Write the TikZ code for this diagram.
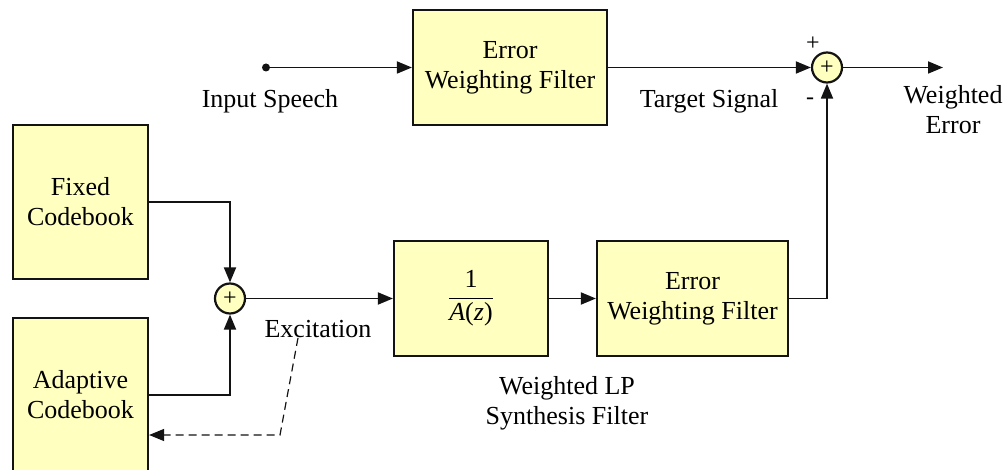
\documentclass[tikz,border=0pt]{standalone}
\usepackage{fontspec}
\setmainfont{Liberation Serif}
\usepackage{xcolor}
\definecolor{block-fill}{HTML}{FFFFC0}
\definecolor{block-line}{HTML}{131313}
\usetikzlibrary{arrows.meta}

\begin{document}
\begin{tikzpicture}[x=0.5pt, y=-0.5pt,
    font=\fontsize{13}{15}\selectfont,
    block/.style={draw=block-line, line width=1.1pt, fill=block-fill, align=center, inner sep=0pt},
    adder/.style={draw=block-line, line width=1.1pt, fill=block-fill, circle, minimum size=15pt, inner sep=0pt, font=\fontsize{12}{12}\selectfont},
    caption/.style={align=center, inner sep=0pt},
    signal/.style={draw=block-line, line width=0.9pt, -{Triangle[length=7.5pt, width=6pt]}}]

    % Canvas
    \useasboundingbox (0, 0) rectangle (1007, 470);

    % Upper path
    \node[circle, fill=block-line, inner sep=0pt, minimum size=4pt] (input) at (266, 67.5) {};
    \node[block, minimum width=97pt, minimum height=57.5pt] (weightTop) at (510, 67.5) {Error\\Weighting Filter};
    \node[adder] (sumTop) at (827, 67.5) {+};
    \coordinate (output) at (943, 67.5);

    % Codebooks
    \node[block, minimum width=67.5pt, minimum height=77pt] (fixed) at (80.5, 202) {Fixed\\Codebook};
    \node[block, minimum width=67.5pt, minimum height=77pt] (adaptive) at (80.5, 395) {Adaptive\\Codebook};
    \node[adder] (sumLeft) at (230, 298.5) {+};

    % Lower path
    \node[block, minimum width=77pt, minimum height=57.5pt] (synth) at (471, 298.5) {$\displaystyle\frac{\mbox{1}}{\mbox{\itshape A\upshape(\itshape z\upshape)}}$};
    \node[block, minimum width=95.5pt, minimum height=57.5pt] (weightBot) at (692.5, 298.5) {Error\\Weighting Filter};

    % Labels
    \node[caption] (inputText) at (270, 101) {Input Speech};
    \node[caption] (targetText) at (709, 101) {Target Signal};
    \node[caption, font=\fontsize{12}{12}\selectfont] (plusText) at (813, 44) {+};
    \node[caption, font=\fontsize{12}{12}\selectfont] (minusText) at (810, 101) {-};
    \node[caption] (errorText) at (953, 110) {Weighted\\Error};
    \node[caption] (excText) at (318, 329) {Excitation};
    \node[caption] (synthText) at (567, 403) {Weighted LP\\Synthesis Filter};

    % Connectors
    \draw[signal] (input) -- (weightTop);
    \draw[signal] (weightTop) -- (sumTop);
    \draw[signal] (sumTop) -- (output);
    \draw[signal] (fixed.east) -| (sumLeft.north);
    \draw[signal] (adaptive.east) -| (sumLeft.south);
    \draw[signal] (sumLeft) -- (synth);
    \draw[signal] (synth) -- (weightBot);
    \draw[signal] (weightBot.east) -| (sumTop.south);

    % Feedback
    \coordinate (excTap) at (298, 338);
    \coordinate (excBend) at (280, 435);
    \draw[signal, line width=0.6pt, dash pattern=on 4pt off 2.5pt] (excTap) -- (excBend) -- (adaptive.east |- excBend);

\end{tikzpicture}
\end{document}
